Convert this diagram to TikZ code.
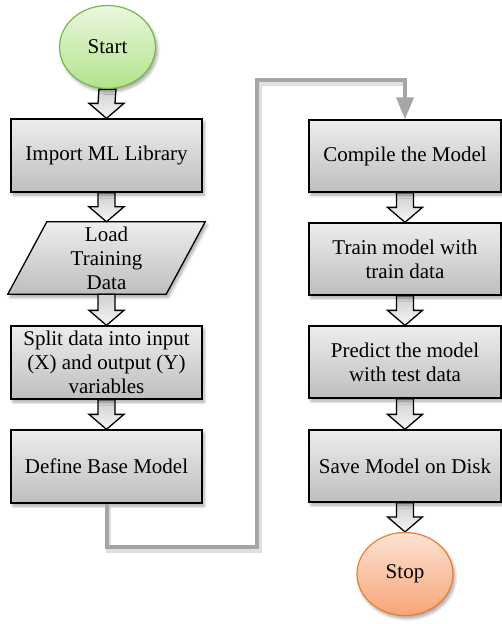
\documentclass[tikz,border=0pt]{standalone}
\usepackage{fontspec}
\setmainfont{Liberation Serif}
\usetikzlibrary{shapes.geometric,shadows.blur,arrows.meta,calc}

\definecolor{boxtop}{HTML}{EDEDED}
\definecolor{boxbot}{HTML}{BEBEBE}
\definecolor{arrtop}{HTML}{CFCFCF}
\definecolor{arrbot}{HTML}{F6F6F6}
\definecolor{starttop}{HTML}{EAF7DF}
\definecolor{startbot}{HTML}{B2E38A}
\definecolor{startline}{HTML}{76B947}
\definecolor{stoptop}{HTML}{FDE3D4}
\definecolor{stopbot}{HTML}{F6A577}
\definecolor{stopline}{HTML}{ED7D31}
\definecolor{linkgray}{HTML}{A6A6A6}

\pgfdeclarelayer{background}
\pgfsetlayers{background,main}

\tikzset{
  boxshadow/.style={blur shadow={shadow xshift=2pt, shadow yshift=-3pt,
      shadow opacity=35, shadow blur steps=6, shadow blur radius=3pt}},
  flowtext/.style={align=center, text=black, font=\fontsize{21}{24}\selectfont},
  procbox/.style={rectangle, draw=black, line width=1.3pt,
      top color=boxtop, bottom color=boxbot, minimum width=191pt,
      minimum height=73pt, inner sep=2pt, flowtext, boxshadow},
  iobox/.style={rectangle, minimum width=158pt, minimum height=72pt,
      inner sep=0pt, flowtext},
  ioshape/.style={draw=black, line width=1.3pt, top color=boxtop,
      bottom color=boxbot, line join=miter, boxshadow},
  startterm/.style={ellipse, draw=startline, line width=1.2pt,
      top color=starttop, bottom color=startbot, minimum width=96pt,
      minimum height=83pt, inner sep=0pt, flowtext, boxshadow},
  stopterm/.style={ellipse, draw=stopline, line width=1.2pt,
      top color=stoptop, bottom color=stopbot, minimum width=96pt,
      minimum height=83pt, inner sep=0pt, flowtext, boxshadow},
  blockarrow/.style={draw=black, line width=1.3pt, line join=miter,
      top color=arrtop, bottom color=arrbot},
  link/.style={draw=linkgray, line width=4pt, line join=miter,
      -{Triangle[width=17pt,length=22pt]}},
  linkshadow/.style={draw=black, opacity=0.12, line width=5pt,
      line join=miter}
}

% hollow block arrow from the bottom of #1 to the top of #2
\newcommand\flowarrow[2]{%
  \path[blockarrow]
    ($(#1.south)+(-8.5,0)$) -- ($(#2.north)+(-8.5,-15)$)
    -- ($(#2.north)+(-17.5,-15)$) -- (#2.north)
    -- ($(#2.north)+(17.5,-15)$) -- ($(#2.north)+(8.5,-15)$)
    -- ($(#1.south)+(8.5,0)$) -- cycle;}

\begin{document}
\begin{tikzpicture}[x=1pt,y=-1pt]
\useasboundingbox (0,0) rectangle (501,624);

% left column
\node[startterm] (start) at (107.5,47) {Start};
\node[procbox] (import) at (106.5,155.5) {Import ML Library};
\node[iobox] (load) at (106.5,258) {Load\\Training\\Data};
\node[procbox] (split) at (106.5,362.5) {Split data into input\\(X) and output (Y)\\variables};
\node[procbox] (define) at (106.5,466.5) {Define Base Model};

% right column
\node[procbox, minimum width=192pt, minimum height=72pt] (compile) at (405,156) {Compile the Model};
\node[procbox, minimum width=192pt, minimum height=72pt] (train) at (405,259) {Train model with\\train data};
\node[procbox, minimum width=192pt, minimum height=72pt] (predict) at (405,362) {Predict the model\\with test data};
\node[procbox, minimum width=192pt, minimum height=72pt] (save) at (405,466) {Save Model on Disk};
\node[stopterm] (stop) at (405,574) {Stop};

\begin{pgfonlayer}{background}
  % input/output parallelogram behind its label
  \path[ioshape]
    ($(load.south west)+(-19.5,0)$) -- ($(load.south east)+(-19.5,0)$)
    -- ($(load.north east)+(19.5,0)$) -- ($(load.north west)+(19.5,0)$)
    -- cycle;
  \flowarrow{start}{import}
  \flowarrow{import}{load}
  \flowarrow{load}{split}
  \flowarrow{split}{define}
  \flowarrow{compile}{train}
  \flowarrow{train}{predict}
  \flowarrow{predict}{save}
  \flowarrow{save}{stop}
\end{pgfonlayer}

% connector between the two columns
\coordinate (lowturn) at (257,547);
\coordinate (highturn) at (405,80);
\begin{pgfonlayer}{background}
  \draw[linkshadow] ([shift={(2,3)}]define.south) |- ([shift={(2,3)}]lowturn)
    |- ([shift={(2,3)}]highturn);
\end{pgfonlayer}
\draw[link] (define.south) |- (lowturn) |- (highturn) -- (compile.north);
\end{tikzpicture}
\end{document}
